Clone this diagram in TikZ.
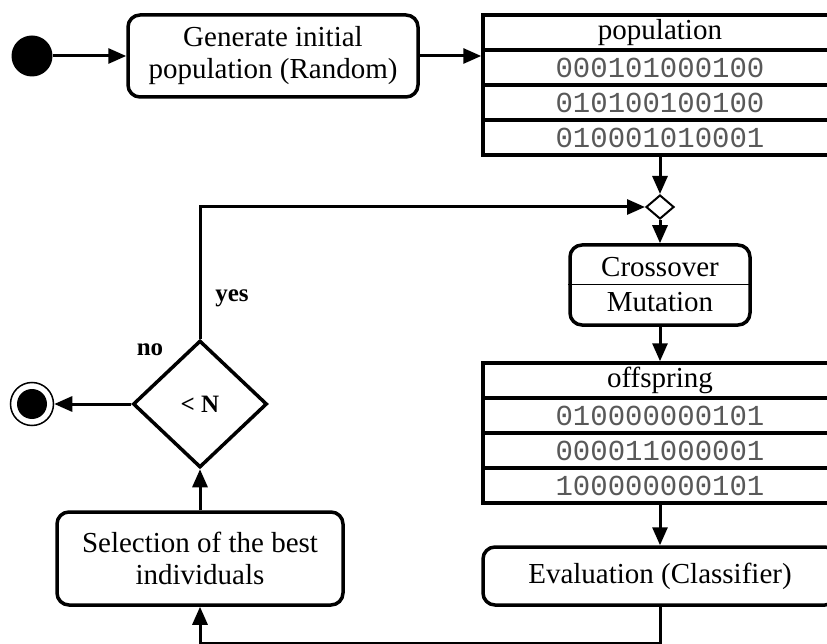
\documentclass[tikz,border=0pt]{standalone}
\usepackage{fontspec}
\setmainfont{Liberation Serif}
\setmonofont{Liberation Mono}
\usetikzlibrary{shapes.geometric,arrows.meta}
\tikzset{
  box/.style={draw, line width=3.5pt, rounded corners=12pt, align=center, inner sep=0pt},
  row/.style={draw, line width=3.5pt, minimum width=354pt, minimum height=35pt, inner sep=0pt},
  bits/.style={font=\fontsize{29}{32}\selectfont\ttfamily, text=black!65},
  flow/.style={line width=3pt, -{Triangle[length=18pt,width=15pt]}},
  lab/.style={font=\fontsize{25}{28}\selectfont\bfseries},
}

\begin{document}
\begin{tikzpicture}[x=1pt,y=-1pt,font=\fontsize{29}{32}\selectfont]
\path[use as bounding box, clip] (0,0) rectangle (827,644);
\node[circle, fill, minimum size=41pt, inner sep=0pt] (start) at (32,56) {};
\node[box, minimum width=290pt, minimum height=82pt] (gen) at (273,56) {Generate initial\\population (Random)};
% population table
\node[row] (pophead) at (660,32.5) {population};
\foreach \b [count=\i] in {000101000100,010100100100,010001010001}
  \node[row, bits] (pop\i) at (660,32.5+35*\i) {\b};
\node[diamond, draw, line width=2pt, minimum width=28pt, minimum height=24pt, inner sep=0pt] (merge) at (660,207) {};
\node[box, minimum width=180pt, minimum height=80pt] (cross) at (660,285) {Crossover\\[3pt]Mutation};
\draw[line width=1pt] (cross.west) -- (cross.east);
% offspring table
\node[row] (offhead) at (660,380.5) {offspring};
\foreach \b [count=\i] in {010000000101,000011000001,100000000101}
  \node[row, bits] (off\i) at (660,380.5+35*\i) {\b};
\node[box, minimum width=354pt, minimum height=58pt] (eval) at (660,576) {Evaluation (Classifier)};
\node[box, minimum width=286pt, minimum height=93pt] (select) at (200,558.5) {Selection of the best\\individuals};
\node[diamond, draw, line width=3.5pt, minimum width=134pt, minimum height=127pt, inner sep=0pt, lab] (test) at (200,404) {< N};
\node[circle, draw, line width=1.5pt, minimum size=43pt, inner sep=0pt,
  path picture={\fill (path picture bounding box.center) circle (15pt);}] (stop) at (32,404) {};
\node[lab] (yes) at (232,298) {yes};
\node[lab] (no) at (150,350) {no};
% connectors
\draw[flow] (start) -- (gen);
\draw[flow] (gen.east) -- (gen.east -| pophead.west);
\draw[flow] (pop3) -- (merge);
\draw[flow] (merge) -- (cross);
\draw[flow] (cross) -- (offhead);
\draw[flow] (off3) -- (eval);
\draw[flow] (eval.south) -- ++(0,37) -| (select.south);
\draw[flow] (select) -- (test);
\draw[flow] (test.north) |- (merge.west);
\draw[flow] (test) -- (stop);
\end{tikzpicture}
\end{document}
